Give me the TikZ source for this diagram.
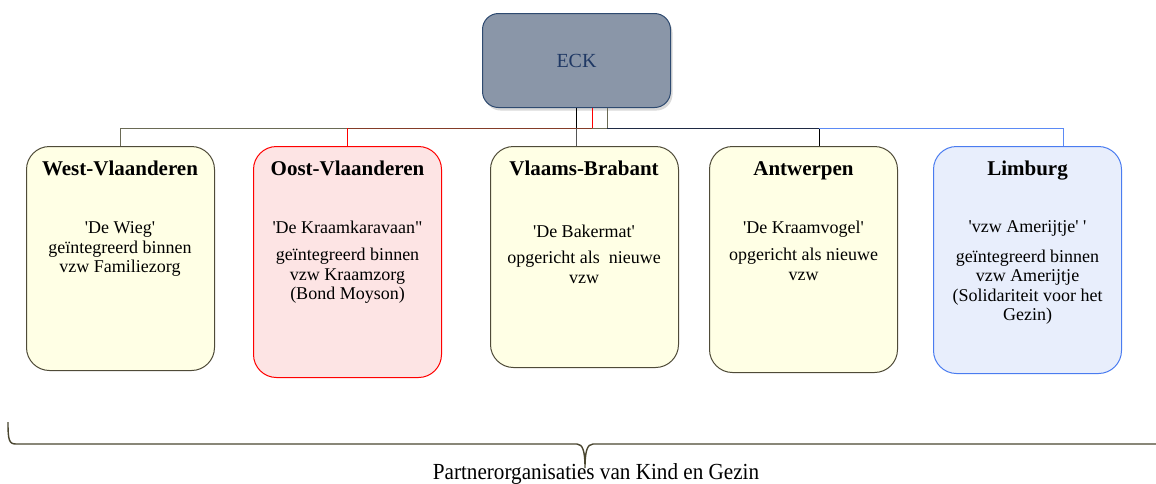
\documentclass[tikz,border=0pt]{standalone}
\usepackage{fontspec}
\setmainfont{Liberation Serif}[Ligatures=TeXOff]
\usetikzlibrary{shadows}
\definecolor{eckfill}{HTML}{8A96A8}
\definecolor{eckdraw}{HTML}{2E4A70}
\definecolor{ecktext}{HTML}{1F3864}
\definecolor{cream}{HTML}{FFFFE5}
\definecolor{olivedraw}{HTML}{4F4B38}
\definecolor{pinkfill}{HTML}{FDE4E4}
\definecolor{bluefill}{HTML}{E8EEFC}
\definecolor{bluedraw}{HTML}{4A7CF0}
\definecolor{oliveline}{HTML}{6A6A55}
\definecolor{brownline}{HTML}{843C28}
\definecolor{navyline}{HTML}{1F2A44}
\definecolor{blueline}{HTML}{5B8AF5}
\definecolor{greyline}{HTML}{555555}
\definecolor{bracecol}{HTML}{4A4630}
\tikzset{
  region/.style={draw, rounded corners=23pt, line width=1pt, inner sep=0pt,
    anchor=north west, minimum width=188pt},
  yellowbox/.style={region, fill=cream, draw=olivedraw},
  title/.style={font=\fontsize{21}{23}\selectfont\bfseries, anchor=base, inner sep=0pt},
  body/.style={font=\fontsize{18}{19.5}\selectfont, align=center, anchor=north, inner sep=0pt},
  conn/.style={line width=0.9pt},
}
\begin{document}
\begin{tikzpicture}[x=1pt,y=-1pt]
\useasboundingbox (0,0) rectangle (1156,483);
% ECK
\node[draw=eckdraw, fill=eckfill, rounded corners=16pt, line width=1pt, inner sep=0pt,
  anchor=north west, minimum width=188pt, minimum height=94pt,
  drop shadow={opacity=0.3, shadow xshift=2pt, shadow yshift=-3pt},
  text=ecktext, font=\fontsize{20}{22}\selectfont] (eck) at (482,13) {ECK};
% boxes
\node[yellowbox, minimum height=224pt] (west) at (26,146) {};
\node[region, fill=pinkfill, draw=red, minimum height=231pt] (oost) at (253,146) {};
\node[yellowbox, minimum height=221pt] (vb) at (490,146) {};
\node[yellowbox, minimum height=226pt] (antw) at (709,146) {};
\node[region, fill=bluefill, draw=bluedraw, minimum height=227pt] (limb) at (933,146) {};
% titles
\node[title] (twest) at (120,175) {West-Vlaanderen};
\node[title] (toost) at (347.5,175) {Oost-Vlaanderen};
\node[title] (tvb) at (584,175) {Vlaams-Brabant};
\node[title] (tantw) at (803.5,175) {Antwerpen};
\node[title] (tlimb) at (1027.5,175) {Limburg};
% bodies
\node[body] (bwest) at (120,221.5) {'De Wieg'\\geïntegreerd binnen\\vzw Familiezorg};
\node[body] (boost) at (347.5,220.5) {'De Kraamkaravaan"\\[8pt]geïntegreerd binnen\\vzw Kraamzorg\\(Bond Moyson)};
\node[body] (bvb) at (584,224.5) {'De Bakermat'\\[7pt]opgericht als\ \ nieuwe\\vzw};
\node[body] (bantw) at (803.5,220.5) {'De Kraamvogel'\\[8pt]opgericht als nieuwe\\vzw};
\node[body] (blimb) at (1027.5,220.5) {'vzw Amerijtje' '\\[10pt]geïntegreerd binnen\\vzw Amerijtje\\(Solidariteit voor het\\Gezin)};
% connector helper coordinates
\coordinate (bus) at (0,128);
\coordinate (xo) at (607,0);
\coordinate (xr) at (592,0);
\coordinate (xa) at (819,0);
\coordinate (xl) at (1063,0);
% West (olive)
\draw[conn, oliveline] (eck.south -| xo) -- (bus -| xo) -| (west.north);
% Antwerpen (navy + black)
\draw[conn, navyline] (bus -| xo) -- (bus -| xa);
\draw[conn, black] (bus -| xa) -- (antw.north -| xa);
% Limburg (blue)
\draw[conn, blueline] (bus -| xa) -- (bus -| xl) -- (limb.north -| xl);
% Oost (red + brown)
\draw[conn, red] (eck.south -| xr) -- (bus -| xr);
\draw[conn, brownline] (bus -| xr) -- (bus -| oost.north);
\draw[conn, red] (bus -| oost.north) -- (oost.north);
% Vlaams-Brabant (black + grey)
\draw[conn, black] (eck.south) -- (bus -| eck.south);
\draw[conn, greyline] (bus -| eck.south) -- (vb.north -| eck.south);
% brace
\draw[bracecol, line width=1.4pt] (8,422) .. controls (8,440) and (9,444) .. (16,444)
  -- (577,444) .. controls (583,444) and (585,452) .. (585,468)
  .. controls (585,452) and (587,444) .. (593,444) -- (1160,444);
\node[font=\fontsize{23}{25}\selectfont, anchor=base, inner sep=0pt] (caption) at (596,479)
  {\scalebox{0.92}[1]{Partnerorganisaties van Kind en Gezin}};
\end{tikzpicture}
\end{document}
